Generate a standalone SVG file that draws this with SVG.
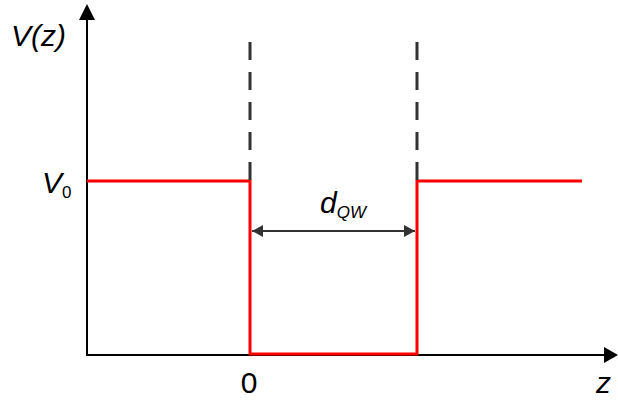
<svg xmlns="http://www.w3.org/2000/svg" width="618" height="402" viewBox="0 0 618 402">
<style>
.ax{stroke:#000;stroke-width:2;fill:none}
.pot{stroke:#ff0000;stroke-width:3;fill:none;stroke-linejoin:miter}
.dash{stroke:#333;stroke-width:3;stroke-dasharray:18 12;fill:none}
.dim{stroke:#333;stroke-width:2;fill:none}
.t{font-family:"Liberation Sans",Arial,sans-serif;fill:#000}
</style>
<defs>
<marker id="dimA" markerWidth="12" markerHeight="12" refX="11" refY="6" orient="auto-start-reverse" markerUnits="userSpaceOnUse">
<path d="M0,0 L11,6 L0,12 Z" fill="#333"/>
</marker>
</defs>
<rect width="618" height="402" fill="#fff"/>
<g id="axes">
<line class="ax" x1="87" y1="356" x2="87" y2="18"/>
<path d="M87,4 L79,20 L95,20 Z" fill="#000"/>
<line class="ax" x1="86" y1="355" x2="606" y2="355"/>
<path d="M618,355 L604,347 L604,363 Z" fill="#000"/>
</g>
<g id="potential">
<path class="pot" d="M87,181 H250 V354 H417 V181 H582"/>
</g>
<g id="connectors">
<line class="dash" x1="250" y1="42" x2="250" y2="181"/>
<line class="dash" x1="417" y1="42" x2="417" y2="181"/>
<line class="dim" x1="252" y1="231" x2="415" y2="231" marker-start="url(#dimA)" marker-end="url(#dimA)"/>
</g>
<g id="labels">
<text class="t" x="11" y="46" font-size="30" font-style="italic">V(z)</text>
<text class="t" x="42" y="193" font-size="30" font-style="italic">V<tspan font-size="17" font-style="normal" dy="5">0</tspan></text>
<text class="t" x="320" y="213" font-size="30" font-style="italic">d<tspan font-size="17" dy="5">QW</tspan></text>
<text class="t" x="249" y="393" font-size="30" text-anchor="middle">0</text>
<text class="t" x="596" y="393" font-size="30" font-style="italic">z</text>
</g>
</svg>
